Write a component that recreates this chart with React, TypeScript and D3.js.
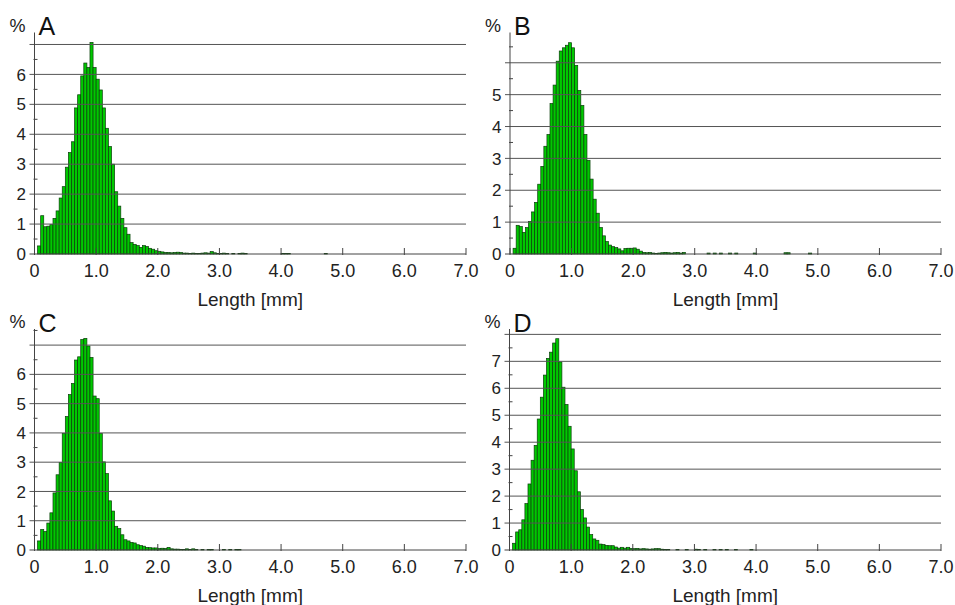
import React from 'react';
import * as d3 from 'd3';

// histogram bins of 0.05 mm, percentage of fibres per bin (index 0 = 0.00-0.05 mm)
const binWidth = 0.05;

const valuesA = [
  0, 0.27, 1.28, 0.91, 0.93, 0.98, 1.19, 1.44, 1.87, 2.25,
  2.9, 3.39, 3.75, 4.88, 5.32, 5.95, 6.38, 6.23, 7.07, 6.23,
  5.84, 5.48, 4.88, 4.2, 3.59, 3.0, 2.08, 1.6, 1.19, 0.88,
  0.66, 0.38, 0.32, 0.28, 0.22, 0.28, 0.25, 0.19, 0.16, 0.11,
  0.09, 0.07, 0.05, 0.05, 0.04, 0.05, 0.06, 0.05, 0.03, 0.03,
  0.02, 0.03, 0.02, 0.02, 0.03, 0.04, 0.03, 0.08, 0.04, 0.02,
  0.02, 0.03, 0.02, 0, 0.02, 0, 0.02, 0.03, 0.02, 0,
  0, 0, 0, 0, 0, 0, 0, 0, 0, 0,
  0.02, 0.02, 0.02, 0, 0, 0, 0, 0, 0, 0,
  0, 0, 0, 0, 0.02,
];

const valuesB = [
  0, 0.18, 0.9, 0.86, 0.68, 0.83, 1.02, 1.32, 1.62, 2.19,
  2.75, 3.38, 3.75, 4.72, 5.3, 6.05, 6.37, 6.47, 6.55, 6.63,
  6.47, 5.92, 5.13, 4.66, 3.75, 2.94, 2.35, 1.72, 1.28, 0.83,
  0.57, 0.39, 0.28, 0.23, 0.2, 0.16, 0.1, 0.17, 0.18, 0.18,
  0.19, 0.15, 0.09, 0.05, 0.04, 0.05, 0.03, 0.02, 0.03, 0.04,
  0.05, 0.04, 0.03, 0.04, 0.05, 0.03, 0.05, 0, 0, 0,
  0, 0, 0, 0, 0.03, 0, 0.03, 0, 0.03, 0,
  0, 0.03, 0, 0.03, 0, 0, 0, 0, 0, 0.03,
  0, 0, 0, 0, 0, 0, 0, 0, 0, 0.04,
  0.04, 0, 0, 0, 0, 0, 0, 0.03,
];

const valuesC = [
  0, 0.31, 0.7, 0.63, 0.92, 1.27, 1.95, 2.57, 2.99, 3.98,
  4.56, 5.31, 5.69, 6.49, 6.6, 7.19, 7.23, 6.97, 6.58, 5.26,
  5.17, 3.98, 3.01, 2.61, 1.68, 1.33, 0.81, 0.73, 0.52, 0.35,
  0.31, 0.26, 0.24, 0.18, 0.15, 0.13, 0.09, 0.08, 0.07, 0.07,
  0.05, 0.06, 0.05, 0.09, 0.04, 0.03, 0.03, 0.02, 0.02, 0.04,
  0.02, 0.04, 0.02, 0, 0.02, 0, 0.02, 0.02, 0, 0,
  0, 0.02, 0, 0.02, 0, 0.02, 0.02,
];

const valuesD = [
  0, 0.25, 0.67, 0.75, 1.12, 1.72, 2.45, 3.33, 3.88, 4.86,
  5.67, 6.49, 7.11, 7.34, 7.68, 7.84, 6.98, 6.04, 5.4, 4.59,
  3.75, 2.94, 2.16, 1.5, 1.19, 0.85, 0.57, 0.41, 0.36, 0.22,
  0.2, 0.17, 0.16, 0.16, 0.11, 0.07, 0.1, 0.07, 0.1, 0.06,
  0.05, 0.06, 0.04, 0.05, 0.04, 0.03, 0.04, 0.05, 0.05, 0.03,
  0.02, 0.02, 0, 0, 0.02, 0, 0, 0.02, 0, 0,
  0.03, 0.02, 0, 0.02, 0, 0, 0.02, 0, 0.02, 0,
  0.02, 0, 0, 0.02, 0, 0, 0, 0, 0.02,
];

const xTicks = [0, 1, 2, 3, 4, 5, 6, 7];
const xTickLabels = ['0', '1.0', '2.0', '3.0', '4.0', '5.0', '6.0', '7.0'];
const xTitle = 'Length [mm]';
const yUnit = '%';

const panelLetters = ['A', 'B', 'C', 'D'];
const panelValues = [valuesA, valuesB, valuesC, valuesD];
const panelYMax = [7.4, 6.95, 7.55, 8.2];
const panelGridMax = [7, 6, 7, 8];
const panelLabelMax = [6, 5, 6, 7];

const font = '"Liberation Sans", Arial, sans-serif';

type PanelProps = {
  letter: string;
  values: number[];
  yMax: number;
  gridMax: number;
  labelMax: number;
  left: number;
  right: number;
  top: number;
  bottom: number;
};

const Panel = ({ letter, values, yMax, gridMax, labelMax, left, right, top, bottom }: PanelProps) => {
  const x = d3.scaleLinear().domain([0, 7]).range([left, right]);
  const y = d3.scaleLinear().domain([0, yMax]).range([bottom, top]);

  const gridVals = d3.range(1, gridMax + 1);
  const labelVals = d3.range(0, labelMax + 1);
  const minorVals = d3.range(0.5, yMax, 0.5).filter(v => v % 1 !== 0);

  return (
    <g>
      {values.map((v, i) =>
        v > 0 ? (
          <rect
            key={i}
            x={x(i * binWidth)}
            y={y(v)}
            width={x((i + 1) * binWidth) - x(i * binWidth)}
            height={y(0) - y(v)}
            fill="#00c800"
            stroke="#0b3d0b"
            strokeWidth={0.7}
          />
        ) : null
      )}
      {gridVals.map(v => (
        <line key={'g' + v} x1={left - 5} x2={right} y1={y(v)} y2={y(v)} stroke="#555" strokeWidth={1} />
      ))}
      {minorVals.map(v => (
        <line key={'m' + v} x1={left - 1} x2={left + 3} y1={y(v)} y2={y(v)} stroke="#444" strokeWidth={1} />
      ))}
      <line x1={left} x2={left} y1={bottom} y2={top} stroke="#444" strokeWidth={1} />
      <line x1={left - 5} x2={right} y1={bottom} y2={bottom} stroke="#444" strokeWidth={1} />
      {xTicks.map(t => (
        <line key={'t' + t} x1={x(t)} x2={x(t)} y1={bottom - 6} y2={bottom + 1} stroke="#444" strokeWidth={1} />
      ))}
      {labelVals.map(v => (
        <text key={'l' + v} x={left - 8.5} y={y(v)} dy="0.36em" textAnchor="end" fontSize={17} fill="#222">
          {v}
        </text>
      ))}
      {xTicks.map((t, i) => (
        <text key={'x' + t} x={x(t)} y={bottom + 23} textAnchor="middle" fontSize={18} fill="#222">
          {xTickLabels[i]}
        </text>
      ))}
      <text x={(left + right) / 2} y={bottom + 52} textAnchor="middle" fontSize={19} fill="#222">
        {xTitle}
      </text>
      <text x={left - 17} y={top - 1} textAnchor="middle" fontSize={18} fill="#222">
        {yUnit}
      </text>
      <text x={left + 4} y={top + 2.5} fontSize={25} fill="#111">
        {letter}
      </text>
    </g>
  );
};

const frames = [
  { left: 34.5, right: 466, top: 32.5, bottom: 254 },
  { left: 510, right: 941, top: 32.5, bottom: 254 },
  { left: 34.5, right: 466, top: 329, bottom: 550 },
  { left: 509.5, right: 941, top: 329, bottom: 550 },
];

export default function App() {
  return (
    <svg
      width={955}
      height={605}
      style={{ position: 'absolute', left: 0, top: 0, background: '#fff', fontFamily: font }}
    >
      {frames.map((f, i) => (
        <Panel
          key={panelLetters[i]}
          letter={panelLetters[i]}
          values={panelValues[i]}
          yMax={panelYMax[i]}
          gridMax={panelGridMax[i]}
          labelMax={panelLabelMax[i]}
          {...f}
        />
      ))}
    </svg>
  );
}
